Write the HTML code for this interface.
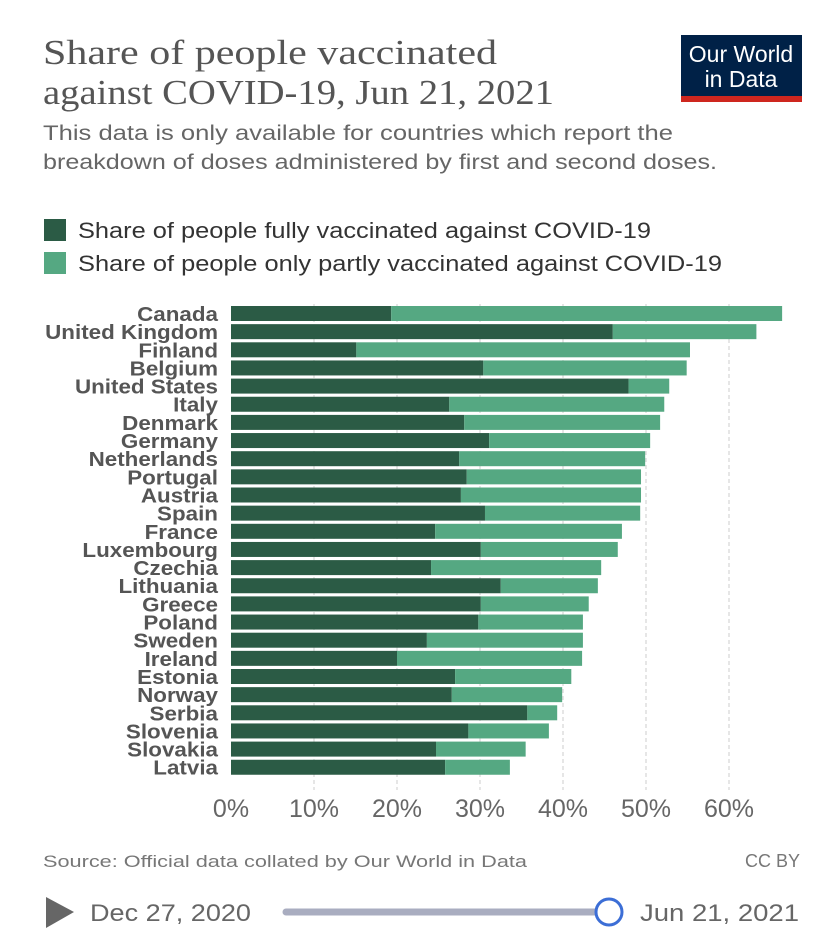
<!DOCTYPE html>
<html><head><meta charset="utf-8"><style>
body{margin:0;background:#fff;width:827px;height:945px;overflow:hidden;font-family:"Liberation Sans",sans-serif;}
svg{position:absolute;left:0;top:0}
</style></head><body>
<svg width="827" height="945" xmlns="http://www.w3.org/2000/svg">
<text x="43" y="64" font-family="Liberation Serif,serif" font-size="35" fill="#555" textLength="454" lengthAdjust="spacingAndGlyphs">Share of people vaccinated</text>
<text x="43" y="104" font-family="Liberation Serif,serif" font-size="35" fill="#555" textLength="511" lengthAdjust="spacingAndGlyphs">against COVID-19, Jun 21, 2021</text>
<text x="43" y="140" font-size="21" fill="#666" textLength="630" lengthAdjust="spacingAndGlyphs">This data is only available for countries which report the</text>
<text x="43" y="169" font-size="21" fill="#666" textLength="674" lengthAdjust="spacingAndGlyphs">breakdown of doses administered by first and second doses.</text>
<g>
<rect x="681" y="35" width="121" height="67" fill="#002147"/>
<rect x="681" y="96" width="121" height="6" fill="#ce261e"/>
<text x="741" y="62" font-size="23" fill="#fff" text-anchor="middle">Our World</text>
<text x="741" y="87" font-size="23" fill="#fff" text-anchor="middle">in Data</text>
</g>
<g>
<rect x="44" y="219" width="22" height="22" fill="#2b5b45"/>
<text x="78" y="238" font-size="22" fill="#333" textLength="573" lengthAdjust="spacingAndGlyphs">Share of people fully vaccinated against COVID-19</text>
<rect x="44" y="252" width="22" height="22" fill="#55a882"/>
<text x="78" y="271" font-size="22" fill="#333" textLength="644" lengthAdjust="spacingAndGlyphs">Share of people only partly vaccinated against COVID-19</text>
</g>
<g id="grid"></g><g id="bars"></g><g id="labels"></g><g id="ticks"></g>
<text x="43" y="867" font-size="17" fill="#777" textLength="484" lengthAdjust="spacingAndGlyphs">Source: Official data collated by Our World in Data</text>
<text x="800" y="867" font-size="18" fill="#777" text-anchor="end">CC BY</text>
<polygon points="46,897 46,928 74,912" fill="#666"/>
<text x="90" y="921" font-size="24" fill="#666" textLength="161" lengthAdjust="spacingAndGlyphs">Dec 27, 2020</text>
<line x1="286" y1="912" x2="608" y2="912" stroke="#a9adc0" stroke-width="7" stroke-linecap="round"/>
<circle cx="609" cy="912" r="13" fill="#fff" stroke="#3c6ed6" stroke-width="3"/>
<text x="640" y="921" font-size="24" fill="#666" textLength="159" lengthAdjust="spacingAndGlyphs">Jun 21, 2021</text>
</svg>
<script>
const countries=["Canada","United Kingdom","Finland","Belgium","United States","Italy","Denmark","Germany","Netherlands","Portugal","Austria","Spain","France","Luxembourg","Czechia","Lithuania","Greece","Poland","Sweden","Ireland","Estonia","Norway","Serbia","Slovenia","Slovakia","Latvia"];
const fully=[19.3,46.0,15.1,30.4,47.9,26.3,28.1,31.1,27.5,28.4,27.7,30.6,24.6,30.1,24.1,32.5,30.1,29.8,23.6,20.0,27.0,26.6,35.7,28.6,24.7,25.8];
const total=[66.4,63.3,55.3,54.9,52.8,52.2,51.7,50.5,49.9,49.4,49.4,49.3,47.1,46.6,44.6,44.2,43.1,42.4,42.4,42.3,41.0,39.9,39.3,38.3,35.5,33.6];
const ticks=[0,10,20,30,40,50,60];
const NS="http://www.w3.org/2000/svg";
const x=v=>231+v*8.3;
const y=i=>306+i*18.15;
function mk(t,a,p){const e=document.createElementNS(NS,t);for(const k in a)e.setAttribute(k,a[k]);document.getElementById(p).appendChild(e);return e;}
ticks.forEach(t=>{
 if(t>0){const l=mk("line",{x1:x(t),x2:x(t),y1:304,y2:790,stroke:"#ccc","stroke-dasharray":"4,3"},"grid");
 
 }
 const tx=mk("text",{x:x(t),y:817,"font-size":25,fill:"#666","text-anchor":"middle"},"ticks");
 tx.textContent=t+"%";
 
 
});
countries.forEach((c,i)=>{
 const b1=mk("rect",{x:x(0),y:y(i),width:x(fully[i])-x(0),height:15,fill:"#2b5b45"},"bars");
 
 
 const b2=mk("rect",{x:x(fully[i]),y:y(i),width:x(total[i])-x(fully[i]),height:15,fill:"#55a882"},"bars");
 
 
 const t=mk("text",{x:218,y:y(i)+15,"font-size":20,"font-weight":"bold",fill:"#555","text-anchor":"end",transform:"translate(218 0) scale(1.12 1) translate(-218 0)"},"labels");
 t.textContent=c;
 
 
});
</script>
</body></html>
